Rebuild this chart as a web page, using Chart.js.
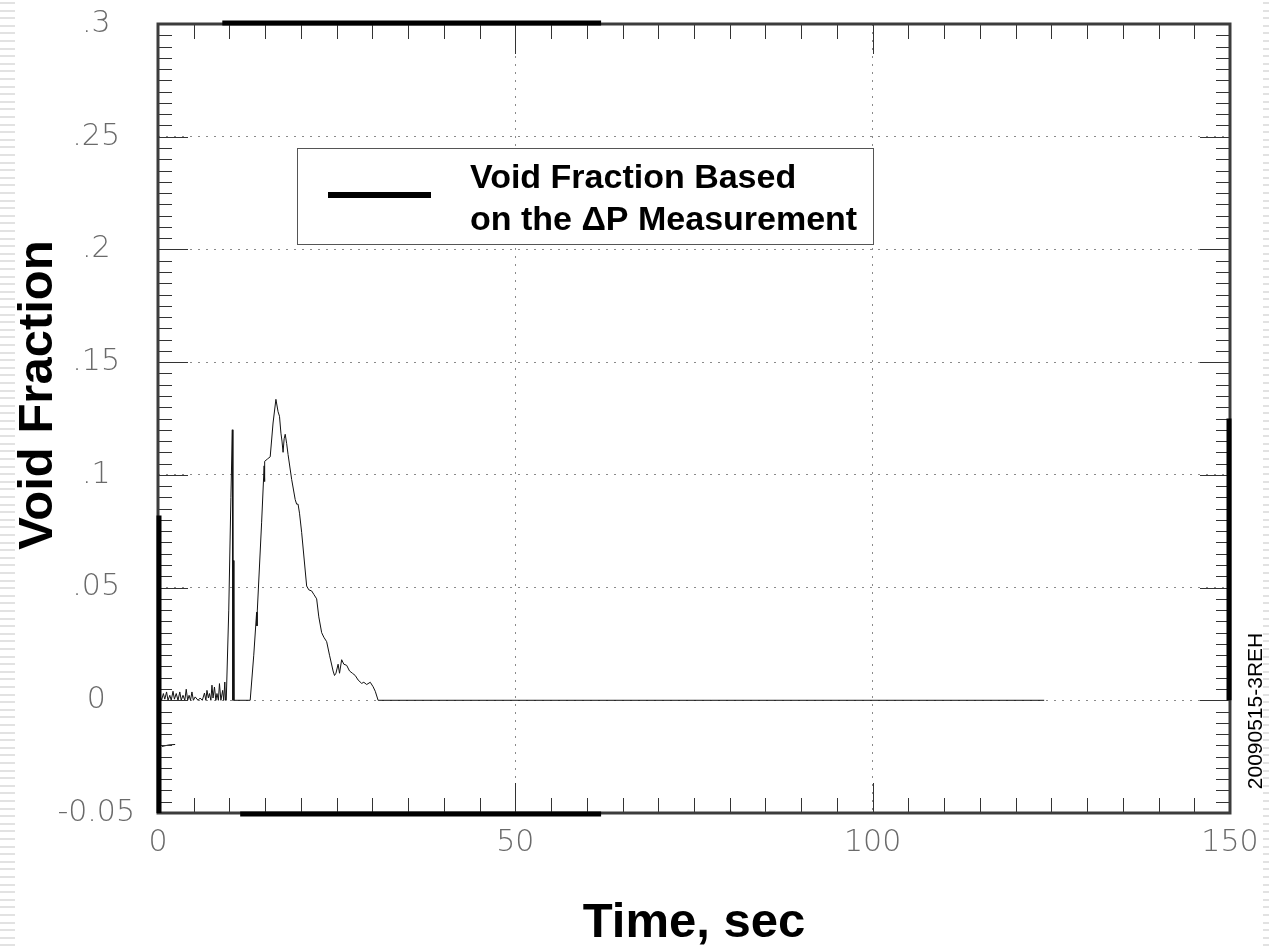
<!DOCTYPE html>
<html>
<head>
<meta charset="utf-8">
<script src="https://cdn.jsdelivr.net/npm/chart.js@4.4.1/dist/chart.umd.min.js"></script>
<style>
  html, body { margin: 0; padding: 0; background: #fff; }
  #wrap { width: 1269px; height: 950px; position: relative; }
</style>
</head>
<body>
<div id="wrap"><canvas id="void-chart"></canvas></div>
<script>
// values (time in s, void fraction)
const timeSec = [
  0.0, 0.3, 0.5, 0.75, 0.95, 1.2, 1.4, 1.65, 1.85, 2.1, 2.3, 2.55, 2.8, 3.05, 3.25, 3.5,
  3.75, 3.95, 4.15, 4.35, 4.55, 4.75, 4.95, 5.2, 5.6, 5.9, 6.2, 6.5, 6.7, 6.85, 7.05, 7.2,
  7.4, 7.55, 7.7, 7.9, 8.1, 8.25, 8.45, 8.6, 8.8, 9.05, 9.2, 9.35, 9.45, 9.55, 9.9, 10.2,
  10.4, 10.48, 10.55, 10.62, 12.9, 13.4, 13.8, 13.85, 13.9, 14.5, 14.85, 14.9, 14.95, 15.3,
  15.7, 16.1, 16.5, 16.8, 17.0, 17.2, 17.35, 17.5, 17.65, 17.8, 18.0, 18.2, 18.7, 19.2,
  19.4, 19.6, 19.8, 20.1, 20.8, 21.1, 21.5, 21.8, 22.2, 22.5, 22.9, 23.2, 23.6, 24.0,
  24.5, 24.7, 24.9, 25.2, 25.4, 25.7, 26.0, 26.4, 26.8, 27.2, 27.6, 28.0, 28.5, 28.8,
  29.2, 29.7, 30.1, 30.4, 30.8, 124.0
];
const voidFraction = [
  0.0, 0.002, 0.0, 0.003, 0.0005, 0.0037, 0.0, 0.0022, 0.0, 0.004, 0.0005, 0.003, 0.0, 0.0037, 0.0, 0.0022,
  0.0, 0.0049, 0.0, 0.0022, 0.0, 0.0037, 0.0, 0.0015, 0.0, 0.001, 0.0, 0.0032, 0.0, 0.0044, 0.001, 0.003,
  0.0, 0.0067, 0.001, 0.0059, 0.0, 0.003, 0.0, 0.0074, 0.0, 0.0044, 0.0, 0.0081, 0.0, 0.0, 0.04, 0.09,
  0.12, 0.0, 0.062, 0.0, 0.0, 0.02, 0.039, 0.033, 0.04, 0.079, 0.104, 0.097, 0.106, 0.107,
  0.108, 0.123, 0.1335, 0.128, 0.126, 0.1185, 0.115, 0.110, 0.116, 0.118, 0.114, 0.109, 0.098, 0.089,
  0.087, 0.087, 0.083, 0.0745, 0.0507, 0.049, 0.0485, 0.047, 0.045, 0.037, 0.030, 0.028, 0.026, 0.020,
  0.013, 0.011, 0.012, 0.016, 0.012, 0.018, 0.016, 0.0155, 0.013, 0.012, 0.011, 0.009, 0.0075, 0.008,
  0.007, 0.008, 0.006, 0.004, 0.0, 0.0
];
// short stray trace below zero near the start
const blipTime = [0.55, 1.5, 2.4];
const blipValue = [-0.0205, -0.0198, -0.0196];

const xTickLabels = ['0', '50', '100', '150'];
const yTickLabels = ['-0.05', '0', '.05', '.1', '.15', '.2', '.25', '.3'];
const legendLines = ['Void Fraction Based', 'on the \u0394P Measurement'];

const toPoints = (xs, ys) => xs.map((t, i) => ({ x: t, y: ys[i] }));

// heavy (scanned) stretches of the frame, in data units
const heavyTop = [9, 62];
const heavyBottom = [11.5, 62];
const heavyLeft = [-0.05, 0.082];
const heavyRight = [0, 0.125];

const gridColor = (ctx) => {
  const v = ctx.tick ? ctx.tick.value : 0;
  const s = ctx.scale;
  if (Math.abs(v - s.min) < 1e-9 || Math.abs(v - s.max) < 1e-9) return 'rgba(0,0,0,0)';
  return '#8a8a8a';
};

const framePlugin = {
  id: 'framePlugin',
  beforeDraw(chart) {
    const { ctx } = chart;
    ctx.save();
    ctx.fillStyle = '#e2e2e2';
    for (let py = 2; py < 950; py += 7.6) {
      ctx.fillRect(0, Math.round(py), 15, 2);
      ctx.fillRect(1263, Math.round(py), 6, 2);
    }
    ctx.restore();
  },
  afterDatasetsDraw(chart) {
    const { ctx, chartArea: a, scales: { x, y } } = chart;
    ctx.save();

    // inward ticks on all four sides
    ctx.strokeStyle = '#333';
    ctx.lineWidth = 1;
    ctx.beginPath();
    for (let i = 0; i <= 30; i++) {
      const px = Math.round(x.getPixelForValue(i * 5)) + 0.5;
      const len = i % 10 === 0 ? 30 : 15;
      ctx.moveTo(px, a.bottom); ctx.lineTo(px, a.bottom - len);
      ctx.moveTo(px, a.top); ctx.lineTo(px, a.top + len);
    }
    for (let i = 0; i <= 70; i++) {
      const py = Math.round(y.getPixelForValue(-0.05 + i * 0.005)) + 0.5;
      const len = i % 10 === 0 ? 30 : 14;
      ctx.moveTo(a.left, py); ctx.lineTo(a.left + len, py);
      ctx.moveTo(a.right, py); ctx.lineTo(a.right - len, py);
    }
    ctx.stroke();

    // frame
    ctx.strokeStyle = '#3c3c3c';
    ctx.lineWidth = 3;
    ctx.strokeRect(a.left, a.top, a.right - a.left, a.bottom - a.top);
    ctx.strokeStyle = '#000';
    ctx.lineWidth = 5;
    ctx.beginPath();
    ctx.moveTo(x.getPixelForValue(heavyTop[0]), a.top - 1);
    ctx.lineTo(x.getPixelForValue(heavyTop[1]), a.top - 1);
    ctx.moveTo(x.getPixelForValue(heavyBottom[0]), a.bottom + 1);
    ctx.lineTo(x.getPixelForValue(heavyBottom[1]), a.bottom + 1);
    ctx.moveTo(a.left + 1, y.getPixelForValue(heavyLeft[0]));
    ctx.lineTo(a.left + 1, y.getPixelForValue(heavyLeft[1]));
    ctx.moveTo(a.right - 1, y.getPixelForValue(heavyRight[0]));
    ctx.lineTo(a.right - 1, y.getPixelForValue(heavyRight[1]));
    ctx.stroke();

    // legend box
    ctx.fillStyle = '#fff';
    ctx.fillRect(297, 148, 576, 96);
    ctx.strokeStyle = '#555';
    ctx.lineWidth = 1;
    ctx.strokeRect(297.5, 148.5, 576, 96);
    ctx.strokeStyle = '#000';
    ctx.lineWidth = 6;
    ctx.beginPath();
    ctx.moveTo(328, 195);
    ctx.lineTo(431, 195);
    ctx.stroke();
    ctx.fillStyle = '#000';
    ctx.font = 'bold 34px "Liberation Sans", Arial, sans-serif';
    ctx.textAlign = 'left';
    ctx.textBaseline = 'alphabetic';
    ctx.fillText(legendLines[0], 470, 188);
    ctx.fillText(legendLines[1], 470, 230);

    // y axis title
    ctx.save();
    ctx.translate(52, 395);
    ctx.rotate(-Math.PI / 2);
    ctx.textAlign = 'center';
    ctx.font = 'bold 49px "Liberation Sans", Arial, sans-serif';
    ctx.fillText('Void Fraction', 0, 0);
    ctx.restore();

    // side id
    ctx.save();
    ctx.translate(1262, 711);
    ctx.rotate(-Math.PI / 2);
    ctx.textAlign = 'center';
    ctx.font = '21px "Liberation Sans", Arial, sans-serif';
    ctx.fillText('20090515-3REH', 0, 0);
    ctx.restore();

    ctx.restore();
  }
};

const tickFont = { family: '"DejaVu Sans", sans-serif', size: 30, weight: 200 };

const ctx = document.getElementById('void-chart').getContext('2d');
const chart = new Chart(ctx, {
  type: 'line',
  data: {
    datasets: [
      {
        label: legendLines.join(' '),
        data: toPoints(timeSec, voidFraction),
        borderColor: '#111',
        borderWidth: 1,
        pointRadius: 0,
        tension: 0,
        fill: false,
      },
      {
        label: 'stray',
        data: toPoints(blipTime, blipValue),
        borderColor: '#111',
        borderWidth: 1,
        pointRadius: 0,
        tension: 0,
        fill: false,
      },
    ],
  },
  options: {
    responsive: true,
    maintainAspectRatio: false,
    animation: false,
    layout: { padding: { top: 24, right: 39, left: 0, bottom: 0 } },
    plugins: {
      legend: { display: false },
      tooltip: { enabled: false },
    },
    scales: {
      x: {
        type: 'linear',
        min: 0,
        max: 150,
        afterFit: (scale) => {
          scale.height = 137;
          scale.paddingLeft = 0;
          scale.paddingRight = 0;
        },
        ticks: {
          stepSize: 50,
          color: '#6a6a6a',
          font: tickFont,
          padding: 12,
          maxRotation: 0,
          callback: (value, index) => xTickLabels[index],
        },
        grid: { color: gridColor, lineWidth: 1, drawTicks: false },
        border: { display: false, dash: [2, 6] },
        title: {
          display: true,
          text: 'Time, sec',
          color: '#000',
          font: { family: '"Liberation Sans", Arial, sans-serif', size: 49, weight: 'bold', lineHeight: 1.1 },
          padding: { top: 0, bottom: 0 },
        },
      },
      y: {
        type: 'linear',
        min: -0.05,
        max: 0.3,
        afterFit: (scale) => {
          scale.width = 158;
          scale.paddingTop = 0;
          scale.paddingBottom = 0;
        },
        ticks: {
          stepSize: 0.05,
          color: '#6a6a6a',
          font: tickFont,
          padding: 23,
          crossAlign: 'center',
          callback: (value, index) => yTickLabels[index],
        },
        grid: { color: gridColor, lineWidth: 1, drawTicks: false },
        border: { display: false, dash: [2, 6] },
      },
    },
  },
  plugins: [framePlugin],
});
</script>
</body>
</html>
